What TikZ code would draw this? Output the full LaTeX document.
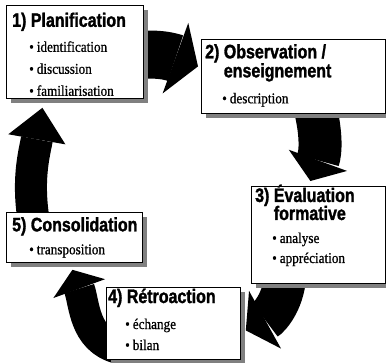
\documentclass[tikz,border=0pt]{standalone}
\usepackage{fontspec}
\setmainfont{Liberation Serif}[FakeStretch=0.88,FakeBold=0.8]
\newfontfamily\headfont{Liberation Sans}[FakeStretch=0.82,FakeBold=1.5]
\usetikzlibrary{arrows.meta,calc,shadows,backgrounds}

\newcommand{\hd}[1]{{\headfont\bfseries\fontsize{19.5}{19.5}\selectfont #1}}
\newcommand{\itm}[1]{\hspace*{17pt}\textbullet\hspace{3pt}#1}

\begin{document}
\begin{tikzpicture}[x=1pt,y=1pt,
  box/.style={draw,line width=0.8pt,fill=white,anchor=north west,inner sep=0pt,
    drop shadow={shadow xshift=4.5pt,shadow yshift=-4.5pt,fill=black!50,opacity=1}},
  txt/.style={anchor=north west,inner sep=0pt,align=left,font=\fontsize{15}{22}\selectfont},
  fat/.style={line width=#1}]
\path[use as bounding box] (0,0) rectangle (386,-362);

% boxes
\node[box,minimum width=137,minimum height=93] (p1) at (6,-5) {};
\node[box,minimum width=184,minimum height=74] (p2) at (201,-39) {};
\node[box,minimum width=134,minimum height=97] (p3) at (251,-186) {};
\node[box,minimum width=134,minimum height=72] (p4) at (106,-287) {};
\node[box,minimum width=136,minimum height=50] (p5) at (6,-212) {};

% texts
\node[txt] (t1) at ($(p1.north west)+(6,-7.5)$) {\hd{1) Planification}\\[3pt]
  \itm{identification}\\ \itm{discussion}\\ \itm{familiarisation}};
\node[txt] (t2) at ($(p2.north west)+(4,-5)$) {\hd{2) Observation /}\\[-3pt]
  \hd{\hphantom{2) }enseignement}\\[4pt] \itm{description}};
\node[txt] (t3) at ($(p3.north west)+(4,1.5)$) {\hd{3) Évaluation}\\[-4pt]
  \hd{\hphantom{3) }formative}\\[1pt] \itm{analyse}\\[-2pt] \itm{appréciation}};
\node[txt] (t4) at ($(p4.north west)+(2,-1.5)$) {\hd{4) Rétroaction}\\[4pt]
  \itm{échange}\\[-1pt] \itm{bilan}};
\node[txt] (t5) at ($(p5.north west)+(6,-5)$) {\hd{5) Consolidation}\\[1pt]
  \itm{transposition}};

% cycle arrows
\begin{scope}[on background layer]
\draw[fat=48pt,-{Triangle[width=75pt,length=24pt,line width=0pt]}]
  ($(p1.east)+(-13,-4.5)$) to[out=10,in=160] ($(p2.west)+(-3,10)$);
\draw[fat=43pt,-{Triangle[width=62pt,length=22pt,line width=0pt]}]
  ($(p2.south)+(20,13)$) to[out=-75,in=70] ($(p3.north)+(-8,5)$);
\draw[fat=42pt,-{Triangle[width=66pt,length=22pt,line width=0pt]}]
  ($(p3.south)+(-33,13)$) to[out=-90,in=29] ($(p4.east)+(5,-7)$);
\draw[fat=31pt,-{Triangle[width=55pt,length=20pt,line width=0pt]}]
  ($(p4.west)+(12,-25)$) to[out=165,in=-70] ($(p5.south)+(-2,-7)$);
\draw[fat=32pt,-{Triangle[width=58pt,length=32pt,line width=0pt]}]
  ($(p5.north)+(-40,-13)$) to[out=100,in=-100] ($(p1.south)+(-32.5,-9)$);
\end{scope}
\end{tikzpicture}
\end{document}
